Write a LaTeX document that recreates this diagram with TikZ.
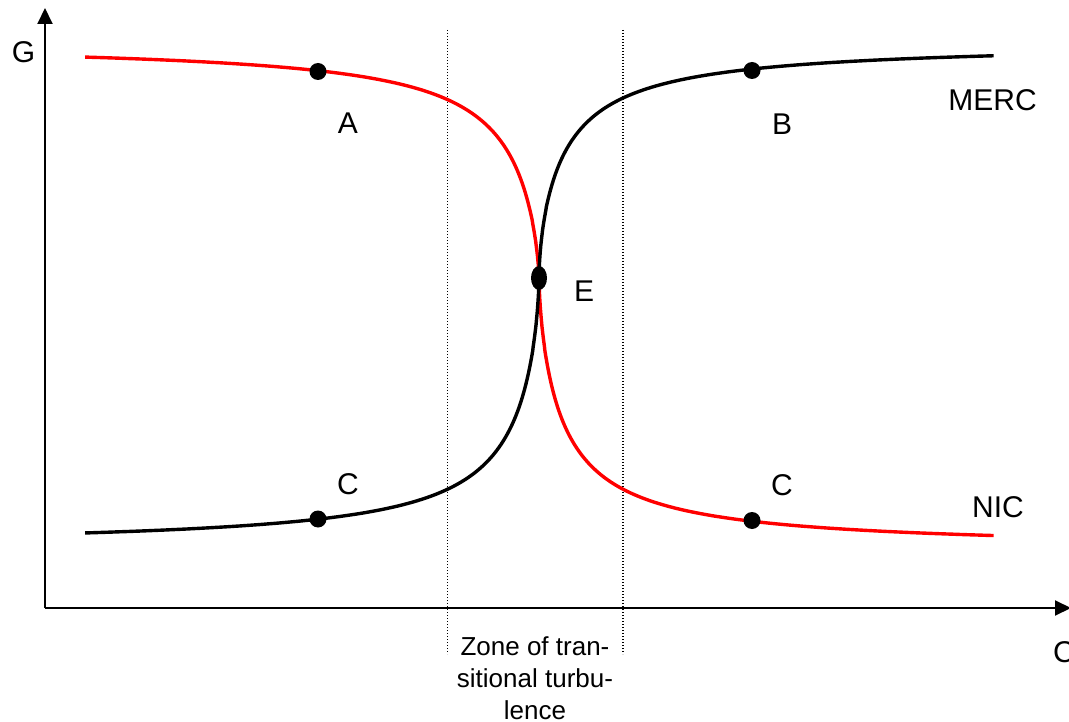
\documentclass[tikz,border=0pt]{standalone}
\usepackage{fontspec}
\setmainfont{Liberation Sans}
\usetikzlibrary{arrows.meta,shapes.geometric}
\tikzset{
  axisline/.style={line width=2pt, -{Triangle[length=16pt,width=15pt]}},
  zoneline/.style={line width=1.2pt, dash pattern=on 1.2pt off 1.8pt},
  curvered/.style={line width=3.4pt, red, line join=round},
  curveblack/.style={line width=3.4pt, black, line join=round},
  dotpt/.style={circle, fill=black, inner sep=0pt, minimum size=17pt},
  dotE/.style={ellipse, fill=black, inner sep=0pt, minimum width=16pt, minimum height=24pt},
  lbl/.style={inner sep=0pt, font=\fontsize{30}{36}\selectfont},
  zonetxt/.style={inner sep=0pt, align=center, font=\fontsize{26}{32}\selectfont}
}
\begin{document}
\begin{tikzpicture}[x=1pt,y=-1pt]
\clip (0,0) rectangle (1069,722);
\fill[white] (0,0) rectangle (1069,722);
% axes
\coordinate (O) at (45,608);
\coordinate (Ytip) at (45,8);
\coordinate (Xtip) at (1071,608);
\draw[axisline] (O) -- (Ytip);
\draw[axisline] (O) -- (Xtip);
% zone lines
\coordinate (Z1t) at (447.5,30);
\coordinate (Z1b) at (447.5,654);
\coordinate (Z2t) at (623,30);
\coordinate (Z2b) at (623,654);
\draw[zoneline] (Z1t) -- (Z1b);
\draw[zoneline] (Z2t) -- (Z2b);
% curves
\draw[curvered]
  plot[domain=7.685:0.2, samples=160, variable=\s] ({539-(\s)^3}, {278-236*(((\s)^3)/((\s)^3+45))^0.7})
  -- plot[domain=0.2:7.69, samples=160, variable=\s] ({539+(\s)^3}, {278+272*(((\s)^3)/((\s)^3+40))^0.65});
\draw[curveblack]
  plot[domain=7.685:0.2, samples=160, variable=\s] ({539-(\s)^3}, {278+270*(((\s)^3)/((\s)^3+42))^0.65})
  -- plot[domain=0.2:7.69, samples=160, variable=\s] ({539+(\s)^3}, {278-236*(((\s)^3)/((\s)^3+48))^0.6});
% dots
\node[dotpt] (A) at (318,71.5) {};
\node[dotpt] (B) at (752,70.5) {};
\node[dotpt] (C1) at (318,519) {};
\node[dotpt] (C2) at (752,520.5) {};
\node[dotE] (E) at (539,278) {};
% labels
\node[lbl] (lG) at (23.5,52.5) {G};
\node[lbl] (lA) at (348,123) {A};
\node[lbl] (lB) at (782,124) {B};
\node[lbl] (lMERC) at (992.5,100) {MERC};
\node[lbl] (lE) at (584,291) {E};
\node[lbl] (lC1) at (348,484) {C};
\node[lbl] (lC2) at (782,485) {C};
\node[lbl] (lNIC) at (998,507.5) {NIC};
\node[lbl] (lCx) at (1064,652.5) {C};
\node[zonetxt, anchor=north] (zone) at (535,636.5) {Zone of tran-\\sitional turbu-\\lence};
\end{tikzpicture}
\end{document}
